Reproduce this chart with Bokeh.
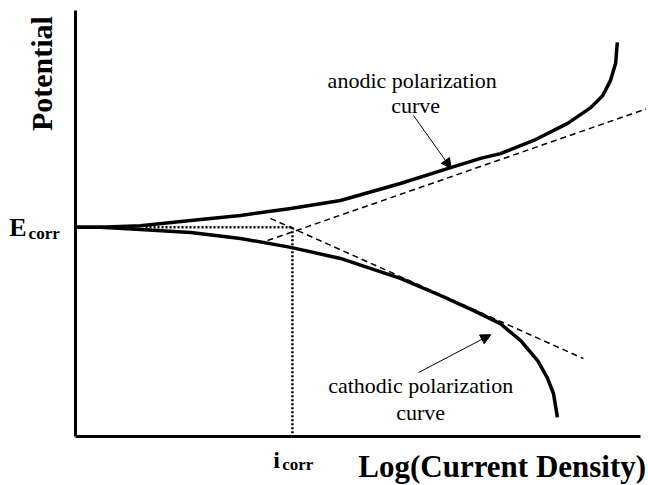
import math
from bokeh.plotting import figure
from bokeh.models import Range1d, Label, Arrow, NormalHead, FixedTicker
from bokeh.embed import file_html
from bokeh.resources import INLINE

# ---- data (x = log current density, y = potential, arbitrary units) ----
anodic_x = [0.0, 0.44, 1.15, 2.04, 2.92, 3.81, 4.69, 5.75, 6.64, 7.17, 7.52, 8.11, 8.71, 9.12, 9.33, 9.47, 9.56, 9.59]
anodic_y = [4.91, 4.91, 4.95, 5.07, 5.19, 5.35, 5.54, 5.94, 6.31, 6.53, 6.64, 6.95, 7.35, 7.72, 8.00, 8.36, 8.76, 9.25]

cathodic_x = [0.0, 0.44, 1.15, 2.04, 2.92, 3.81, 4.69, 5.75, 6.46, 7.04, 7.52, 7.88, 8.18, 8.35, 8.46, 8.53]
cathodic_y = [4.91, 4.91, 4.86, 4.79, 4.65, 4.44, 4.18, 3.71, 3.31, 2.96, 2.65, 2.25, 1.78, 1.38, 1.01, 0.45]

anodic_tafel_x = [3.40, 10.1]
anodic_tafel_y = [4.60, 7.69]
cathodic_tafel_x = [3.45, 8.99]
cathodic_tafel_y = [5.12, 1.83]

E_corr = 4.91
i_corr = 3.84
dotted_start_x = 1.24

SERIF = "Liberation Serif"

p = figure(width=648, height=485, output_backend="svg", toolbar_location=None,
           x_range=Range1d(-1.327, 10.142), y_range=Range1d(-1.150, 10.235),
           min_border=0)
p.grid.visible = False
p.outline_line_color = None
p.background_fill_color = "white"
p.border_fill_color = "white"

for ax in (p.xaxis[0], p.yaxis[0]):
    ax.ticker = FixedTicker(ticks=[])
    ax.major_label_text_font_size = "0px"
    ax.major_tick_line_color = None
    ax.minor_tick_line_color = None
    ax.axis_line_width = 3
    ax.axis_line_color = "black"
    ax.fixed_location = 0
    ax.bounds = (0, 10)

# curves
p.line(anodic_x, anodic_y, line_width=3.5, line_color="black", line_join="round")
p.line(cathodic_x, cathodic_y, line_width=3.5, line_color="black", line_join="round")
# tafel extrapolations
p.line(anodic_tafel_x, anodic_tafel_y, line_width=1.5, line_color="black", line_dash="6 4")
p.line(cathodic_tafel_x, cathodic_tafel_y, line_width=1.5, line_color="black", line_dash="6 4")
# dotted E_corr / i_corr guides
p.line([dotted_start_x, i_corr], [E_corr, E_corr], line_width=2.5, line_color="black", line_dash="2 2")
p.line([i_corr, i_corr], [E_corr, 0], line_width=2.5, line_color="black", line_dash="2 2")

# arrows
p.add_layout(Arrow(end=NormalHead(size=10, fill_color="black", line_color="black"),
                   x_start=5.98, y_start=7.54, x_end=6.65, y_end=6.29,
                   line_width=1, line_color="black"))
p.add_layout(Arrow(end=NormalHead(size=10, fill_color="black", line_color="black"),
                   x_start=6.07, y_start=1.50, x_end=7.35, y_end=2.39,
                   line_width=1, line_color="black"))

def lab(text, x, y, size, bold=False, align="center", baseline="middle", angle=0.0):
    p.add_layout(Label(x=x, y=y, text=text, text_font=SERIF, text_font_size=size,
                       text_font_style="bold" if bold else "normal",
                       text_align=align, text_baseline=baseline, angle=angle,
                       text_color="black"))

# annotations
lab("anodic polarization", 5.96, 8.36, "22px")
lab("curve", 6.02, 7.77, "22px")
lab("cathodic polarization", 6.11, 1.20, "22px")
lab("curve", 6.11, 0.56, "22px")

# axis-ish labels
lab("Potential", -0.60, 8.52, "30px", bold=True, angle=math.pi / 2)
lab("E", -1.17, 4.91, "26px", bold=True, align="left", baseline="alphabetic")
lab("corr", -0.83, 4.77, "17px", bold=True, align="left", baseline="alphabetic")
lab("i", 3.50, -0.54, "24px", bold=True, align="left", baseline="alphabetic")
lab("corr", 3.66, -0.66, "17px", bold=True, align="left", baseline="alphabetic")
lab("Log(Current Density)", 10.10, -0.70, "31px", bold=True, align="right", baseline="alphabetic")

open("out.html", "w").write(file_html(p, INLINE))
